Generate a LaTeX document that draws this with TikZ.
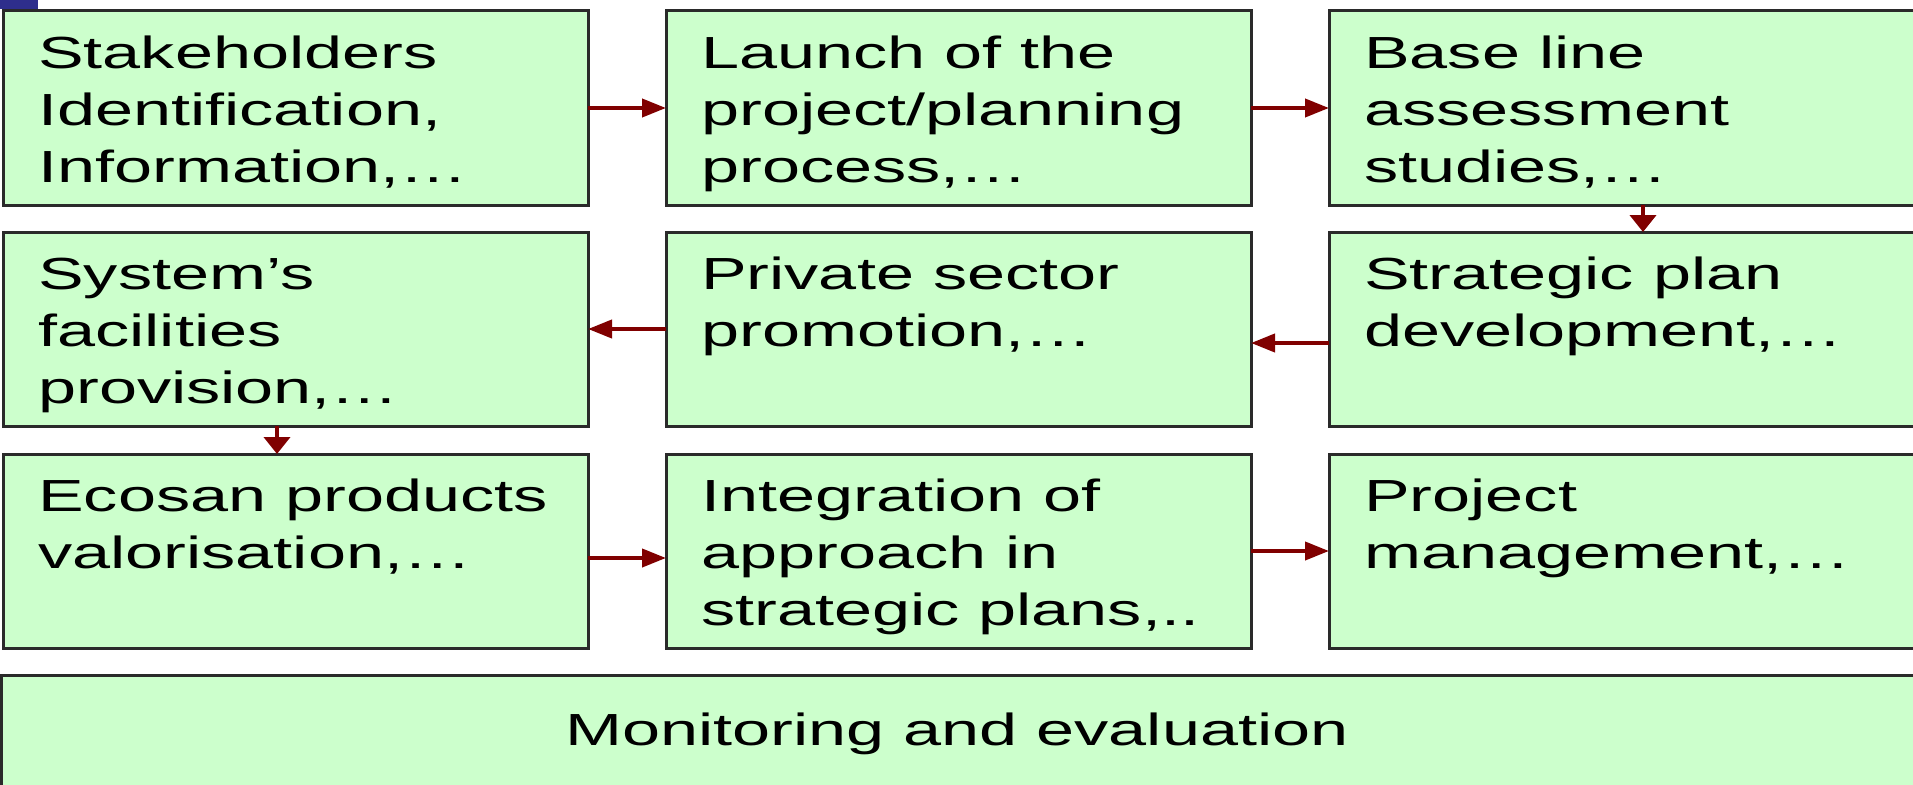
\documentclass[tikz,border=0pt]{standalone}
\usepackage{fontspec}
\setmainfont{Liberation Sans}[FakeStretch=1.52]
\usetikzlibrary{arrows.meta,calc}
\definecolor{boxfill}{HTML}{CCFFCC}
\definecolor{boxline}{HTML}{2A2A2A}
\definecolor{arrred}{HTML}{800000}
\definecolor{cornerblue}{HTML}{2E2E8C}
\begin{document}
\begin{tikzpicture}[x=1pt,y=-1pt,
  box/.style={draw=boxline, line width=3pt, fill=boxfill, rectangle, inner sep=0pt, outer sep=0pt,
    anchor=north west, minimum width=585pt, minimum height=194pt},
  lbl/.style={anchor=north west, inner sep=0pt, align=left, font=\fontsize{45}{57}\selectfont},
  arr/.style={draw=arrred, line width=4pt, -{Triangle[length=24pt,width=18pt]}},
  arrdown/.style={draw=arrred, line width=4pt, -{Triangle[length=17pt,width=26pt]}}]
\useasboundingbox (0,0) rectangle (1913,784);
\clip (0,0) rectangle (1913,784);
\fill[cornerblue] (0,0) rectangle (38,9);
% boxes
\node[box] (b1) at (3,11) {};
\node[box] (b2) at (666,11) {};
\node[box] (b3) at (1329,11) {};
\node[box] (b4) at (3,232) {};
\node[box] (b5) at (666,232) {};
\node[box] (b6) at (1329,232) {};
\node[box] (b7) at (3,454) {};
\node[box] (b8) at (666,454) {};
\node[box] (b9) at (1329,454) {};
\node[box, minimum width=1915pt, minimum height=140pt] (b10) at (1,675) {};
% labels
\node[lbl] (t1) at ($(b1.north west)+(35,21)$) {\rule{0pt}{36pt}Stakeholders\\Identification,\\Information,…};
\node[lbl] (t2) at ($(b2.north west)+(35,21)$) {\rule{0pt}{36pt}Launch of the\\project/planning\\process,…};
\node[lbl] (t3) at ($(b3.north west)+(35,21)$) {\rule{0pt}{36pt}Base line\\assessment\\studies,…};
\node[lbl] (t4) at ($(b4.north west)+(35,21)$) {\rule{0pt}{36pt}System’s\\facilities\\provision,…};
\node[lbl] (t5) at ($(b5.north west)+(35,21)$) {\rule{0pt}{36pt}Private sector\\promotion,…};
\node[lbl] (t6) at ($(b6.north west)+(35,21)$) {\rule{0pt}{36pt}Strategic plan\\development,…};
\node[lbl] (t7) at ($(b7.north west)+(35,21)$) {\rule{0pt}{36pt}Ecosan products\\valorisation,…};
\node[lbl] (t8) at ($(b8.north west)+(35,21)$) {\rule{0pt}{36pt}Integration of\\approach in\\strategic plans,..};
\node[lbl] (t9) at ($(b9.north west)+(35,21)$) {\rule{0pt}{36pt}Project\\management,…};
\node[lbl, anchor=base] (t10) at (957,745) {Monitoring and evaluation};
% arrows
\draw[arr] (b1.east) -- (b2.west);
\draw[arr] (b2.east) -- (b3.west);
\draw[arrdown] ($(b3.south west)+(314,0)$) -- ($(b6.north west)+(314,0)$);
\draw[arr] ($(b6.west)+(0,14)$) -- ($(b5.east)+(0,14)$);
\draw[arr] (b5.west) -- (b4.east);
\draw[arrdown] ($(b4.south west)+(274,0)$) -- ($(b7.north west)+(274,0)$);
\draw[arr] ($(b7.east)+(0,7)$) -- ($(b8.west)+(0,7)$);
\draw[arr] (b8.east) -- (b9.west);
\end{tikzpicture}
\end{document}
